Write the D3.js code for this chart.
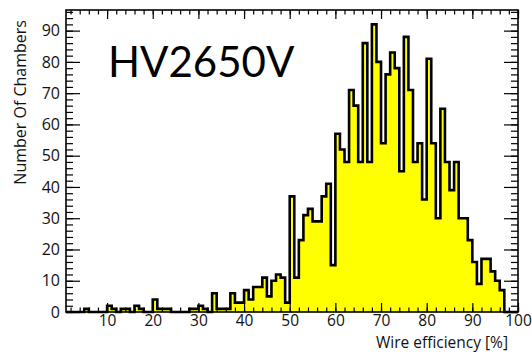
<!DOCTYPE html>
<html>
<head>
<meta charset="utf-8">
<script src="https://cdn.jsdelivr.net/npm/d3@7"></script>
<style>
  body { margin: 0; background: #fff; }
  text { font-family: "Open Sans", sans-serif; fill: #111; }
</style>
</head>
<body>
<svg id="chart" width="532" height="354"></svg>
<script>
// bins are 1 unit wide, first bin starts at 1
const binStart = 1;
const binWidth = 1;
const counts = [
  0, 0, 0, 0, 1, 0, 0, 0, 0, 2,
  1, 0, 1, 1, 0, 2, 1, 0, 0, 4,
  1, 1, 1, 0, 0, 0, 0, 1, 1, 2,
  1, 0, 6, 1, 1, 1, 6, 3, 3, 7,
  4, 8, 8, 11, 5, 10, 12, 11, 3, 37,
  11, 23, 31, 33, 29, 29, 37, 41, 15, 57,
  52, 48, 71, 66, 48, 86, 48, 92, 80, 54,
  76, 83, 78, 45, 88, 71, 48, 54, 36, 81,
  54, 30, 65, 48, 39, 48, 30, 30, 23, 16,
  9, 17, 17, 13, 10, 7, 0, 0, 0
];
const xTicks = [10, 20, 30, 40, 50, 60, 70, 80, 90, 100];
const yTicks = [0, 10, 20, 30, 40, 50, 60, 70, 80, 90];
const xLabel = "Wire efficiency [%]";
const yLabel = "Number Of Chambers";
const title = "HV2650V";

const frame = { left: 66, right: 518, top: 10, bottom: 312 };

let svg;

document.addEventListener('DOMContentLoaded', function () {
    svg = d3.select('#chart');
    drawHistogram();
});

function drawHistogram() {
    const xScale = d3.scaleLinear().domain([1, 100]).range([frame.left, frame.right]);
    const yScale = d3.scaleLinear().domain([0, 92 * 1.05]).range([frame.bottom, frame.top]);

    // step outline of the histogram
    const pts = [[binStart, 0]];
    counts.forEach((c, i) => {
        const x0 = binStart + i * binWidth;
        pts.push([x0, c]);
        pts.push([x0 + binWidth, c]);
    });
    pts.push([binStart + counts.length * binWidth, 0]);

    const line = d3.line().x(d => xScale(d[0])).y(d => yScale(d[1]));

    svg.append('path')
        .attr('d', line(pts) + 'Z')
        .style('fill', '#ffff00')
        .style('stroke', 'none');

    svg.append('path')
        .attr('d', line(pts))
        .style('fill', 'none')
        .style('stroke', '#000')
        .style('stroke-width', 2.6)
        .style('stroke-linejoin', 'miter');

    const minorX = d3.range(2, 101, 2);
    const minorY = d3.range(0, 97, 2);

    // bottom axis
    svg.append('g').attr('transform', `translate(0,${frame.bottom})`)
        .call(d3.axisBottom(xScale).tickValues(minorX).tickSize(-4.5).tickFormat(''));
    svg.append('g').attr('transform', `translate(0,${frame.bottom})`)
        .call(d3.axisBottom(xScale).tickValues(xTicks).tickSize(-9).tickPadding(3))
        .selectAll('text').style('font-size', '15.5px');
    // top axis
    svg.append('g').attr('transform', `translate(0,${frame.top})`)
        .call(d3.axisTop(xScale).tickValues(minorX).tickSize(-4.5).tickFormat(''));
    svg.append('g').attr('transform', `translate(0,${frame.top})`)
        .call(d3.axisTop(xScale).tickValues(xTicks).tickSize(-9).tickFormat(''));
    // left axis
    svg.append('g').attr('transform', `translate(${frame.left},0)`)
        .call(d3.axisLeft(yScale).tickValues(minorY).tickSize(-7).tickFormat(''));
    svg.append('g').attr('transform', `translate(${frame.left},0)`)
        .call(d3.axisLeft(yScale).tickValues(yTicks).tickSize(-14).tickPadding(6))
        .selectAll('text').style('font-size', '16px');
    // right axis
    svg.append('g').attr('transform', `translate(${frame.right},0)`)
        .call(d3.axisRight(yScale).tickValues(minorY).tickSize(-7).tickFormat(''));
    svg.append('g').attr('transform', `translate(${frame.right},0)`)
        .call(d3.axisRight(yScale).tickValues(yTicks).tickSize(-14).tickFormat(''));

    svg.selectAll('.domain').remove();
    svg.selectAll('.tick line').style('stroke', '#000').style('stroke-width', 1.2);

    // frame
    svg.append('rect')
        .attr('x', frame.left).attr('y', frame.top)
        .attr('width', frame.right - frame.left).attr('height', frame.bottom - frame.top)
        .style('fill', 'none').style('stroke', '#000').style('stroke-width', 1.6);

    svg.append('text')
        .attr('x', 508).attr('y', 347.5)
        .attr('text-anchor', 'end')
        .style('font-size', '15.5px')
        .text(xLabel);

    svg.append('text')
        .attr('transform', 'translate(26,20) rotate(-90)')
        .attr('text-anchor', 'end')
        .style('font-size', '16px')
        .text(yLabel);

    svg.append('text')
        .attr('x', 108).attr('y', 77)
        .style('font-family', 'Lato, sans-serif')
        .style('font-size', '42px')
        .style('fill', '#000')
        .text(title);
}
</script>
</body>
</html>
